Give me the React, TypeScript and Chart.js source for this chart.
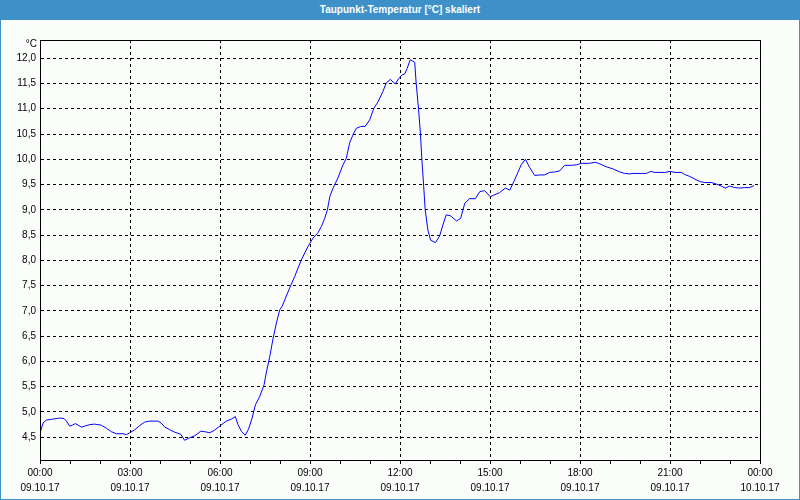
import React, { useEffect, useRef } from "react";
import { Chart, registerables } from "chart.js";

Chart.register(...registerables);

const TITLE = "Taupunkt-Temperatur [°C] skaliert";
const UNIT = "°C";

// time of day in hours since 09.10.17 00:00
const hours = [
  0.0, 0.1, 0.21, 0.38, 0.54, 0.66, 0.8, 0.88, 0.99, 1.08, 1.18, 1.27, 1.38, 1.49, 1.66, 1.82,
  2.04, 2.21, 2.38, 2.54, 2.77, 2.88, 2.99, 3.16, 3.32, 3.49, 3.66, 3.93, 4.04, 4.16, 4.32,
  4.49, 4.69, 4.82, 4.99, 5.16, 5.36, 5.49, 5.66, 5.82, 6.01, 6.21, 6.38, 6.51, 6.6, 6.71,
  6.84, 6.95, 7.07, 7.18, 7.32, 7.47, 7.54, 7.66, 7.77, 7.88, 7.99, 8.07, 8.32, 8.49, 8.71,
  8.93, 9.1, 9.27, 9.38, 9.49, 9.58, 9.66, 9.77, 9.93, 10.1, 10.21, 10.32, 10.43, 10.54,
  10.69, 10.84, 10.99, 11.13, 11.27, 11.43, 11.54, 11.68, 11.84, 11.96, 12.07, 12.16, 12.24,
  12.34, 12.49, 12.54, 12.62, 12.68, 12.73, 12.79, 12.84, 12.93, 13.02, 13.18, 13.32, 13.43,
  13.54, 13.69, 13.88, 14.02, 14.16, 14.32, 14.51, 14.66, 14.82, 15.01, 15.16, 15.32, 15.51,
  15.66, 15.82, 15.93, 16.04, 16.18, 16.32, 16.49, 16.66, 16.82, 16.99, 17.16, 17.32, 17.49,
  17.71, 17.88, 18.04, 18.32, 18.51, 18.66, 18.88, 19.1, 19.32, 19.49, 19.66, 19.77, 20.07,
  20.21, 20.36, 20.49, 20.82, 21.01, 21.16, 21.38, 21.49, 21.66, 21.82, 21.99, 22.16, 22.38,
  22.54, 22.71, 22.84, 22.99, 23.16, 23.32, 23.49, 23.66, 23.8,
];

const dewPoint = [
  4.58, 4.78, 4.84, 4.855, 4.87, 4.88, 4.87, 4.82, 4.72, 4.74, 4.77, 4.74, 4.7, 4.72, 4.75, 4.76,
  4.74, 4.68, 4.61, 4.57, 4.57, 4.55, 4.59, 4.65, 4.73, 4.8, 4.82, 4.82, 4.78, 4.7, 4.65,
  4.6, 4.56, 4.44, 4.49, 4.53, 4.62, 4.61, 4.59, 4.64, 4.73, 4.82, 4.86, 4.91, 4.75, 4.62,
  4.54, 4.66, 4.88, 5.14, 5.3, 5.54, 5.77, 6.1, 6.46, 6.76, 7.02, 7.09, 7.45, 7.68, 8.01,
  8.27, 8.44, 8.55, 8.67, 8.83, 9.0, 9.26, 9.43, 9.63, 9.89, 10.02, 10.32, 10.48, 10.61,
  10.65, 10.65, 10.78, 11.01, 11.14, 11.34, 11.51, 11.58, 11.49, 11.6, 11.67, 11.69, 11.8,
  11.97, 11.92, 11.5, 10.98, 10.52, 9.99, 9.46, 9.0, 8.6, 8.4, 8.35, 8.48, 8.7,
  8.9, 8.88, 8.78, 8.83, 9.13, 9.22, 9.22, 9.36, 9.38, 9.26, 9.3, 9.34, 9.43,
  9.39, 9.59, 9.74, 9.89, 10.0, 9.84, 9.68, 9.69, 9.69, 9.74, 9.75, 9.77, 9.88,
  9.88, 9.89, 9.92, 9.92, 9.94, 9.91, 9.85, 9.81, 9.75, 9.72, 9.71, 9.72, 9.72,
  9.72, 9.76, 9.74, 9.74, 9.76, 9.74, 9.74, 9.7, 9.66, 9.61, 9.56, 9.54, 9.54,
  9.51, 9.47, 9.43, 9.47, 9.44, 9.43, 9.44, 9.44, 9.48,
];

const yTicks = [4.5, 5.0, 5.5, 6.0, 6.5, 7.0, 7.5, 8.0, 8.5, 9.0, 9.5, 10.0, 10.5, 11.0, 11.5, 12.0];
const xLabelHours = [0, 3, 6, 9, 12, 15, 18, 21, 24];
const xTimeLabels = ["00:00", "03:00", "06:00", "09:00", "12:00", "15:00", "18:00", "21:00", "00:00"];
const xDateLabels = ["09.10.17", "09.10.17", "09.10.17", "09.10.17", "09.10.17", "09.10.17", "09.10.17", "09.10.17", "10.10.17"];

const Y_MIN = 4.05;
const Y_MAX = 12.36;
const FONT = "'Liberation Sans', Arial, sans-serif";
const BLUE = "#3d90c8";

export default function App() {
  const ref = useRef<HTMLCanvasElement>(null);

  useEffect(() => {
    document.body.style.margin = "0";
    const canvas = ref.current;
    if (!canvas) return;

    const framePlugin = {
      id: "frame",
      afterDraw(chart: any) {
        const { ctx, chartArea } = chart;
        ctx.save();
        ctx.strokeStyle = "#000";
        ctx.lineWidth = 1;
        ctx.strokeRect(
          Math.round(chartArea.left) + 0.5,
          Math.round(chartArea.top) + 0.5,
          Math.round(chartArea.right - chartArea.left),
          Math.round(chartArea.bottom - chartArea.top)
        );
        ctx.fillStyle = "#000";
        ctx.font = `10px ${FONT}`;
        ctx.textAlign = "right";
        ctx.textBaseline = "middle";
        ctx.fillText(UNIT, chartArea.left - 3, chartArea.top + 4);
        ctx.restore();
      },
    };

    const chart = new Chart(canvas, {
      type: "line",
      data: {
        datasets: [
          {
            data: hours.map((h, i) => ({ x: h, y: dewPoint[i] })),
            borderColor: "#0000ff",
            borderWidth: 1,
            pointRadius: 0,
            tension: 0,
            fill: false,
          },
        ],
      },
      options: {
        animation: false,
        responsive: false,
        devicePixelRatio: 1,
        layout: { padding: { left: 0, top: 40, right: 40, bottom: 0 } },
        plugins: {
          legend: { display: false },
          tooltip: { enabled: false },
          title: { display: false },
        },
        scales: {
          x: {
            type: "linear",
            min: 0,
            max: 24,
            afterBuildTicks: (scale: any) => {
              const t = [];
              for (let h = 0; h <= 24; h++) t.push({ value: h });
              scale.ticks = t;
            },
            afterFit: (scale: any) => {
              scale.height = 40;
            },
            ticks: {
              autoSkip: false,
              maxRotation: 0,
              minRotation: 0,
              padding: 2,
              color: "#000",
              font: { family: FONT, size: 10, lineHeight: "15px" },
              callback: (v: any) => {
                const idx = xLabelHours.indexOf(Number(v));
                return idx >= 0 ? [xTimeLabels[idx], xDateLabels[idx]] : "";
              },
            },
            grid: {
              color: (ctx: any) =>
                ctx.tick && xLabelHours.indexOf(ctx.tick.value) >= 0 ? "#000" : "rgba(0,0,0,0)",
              tickColor: "#000",
              tickLength: 4,
              lineWidth: 1,
            },
            border: { display: true, color: "#000", width: 1, dash: [3, 3] },
          },
          y: {
            type: "linear",
            min: Y_MIN,
            max: Y_MAX,
            afterBuildTicks: (scale: any) => {
              scale.ticks = yTicks.map((v) => ({ value: v }));
            },
            afterFit: (scale: any) => {
              scale.width = 40;
            },
            ticks: {
              padding: 4,
              color: "#000",
              font: { family: FONT, size: 10 },
              callback: (v: any) => Number(v).toFixed(1).replace(".", ","),
            },
            grid: { color: "#000", drawTicks: false, lineWidth: 1 },
            border: { display: true, color: "#000", width: 1, dash: [3, 3] },
          },
        },
      },
      plugins: [framePlugin],
    } as any);

    return () => chart.destroy();
  }, []);

  return (
    <div
      style={{
        position: "fixed",
        left: 0,
        top: 0,
        width: 800,
        height: 500,
        background: "#fbfdfb",
        overflow: "hidden",
      }}
    >
      <canvas ref={ref} width={800} height={500} style={{ position: "absolute", left: 0, top: 0 }} />
      <div
        style={{
          position: "absolute",
          left: 0,
          top: 0,
          width: 800,
          height: 20,
          background: BLUE,
          color: "#fff",
          fontFamily: FONT,
          fontWeight: "bold",
          fontSize: 10,
          lineHeight: "19px",
          textAlign: "center",
        }}
      >
        {TITLE}
      </div>
      <div
        style={{
          position: "absolute",
          left: 0,
          top: 0,
          width: 800,
          height: 500,
          boxSizing: "border-box",
          border: `1px solid ${BLUE}`,
          pointerEvents: "none",
        }}
      />
    </div>
  );
}
